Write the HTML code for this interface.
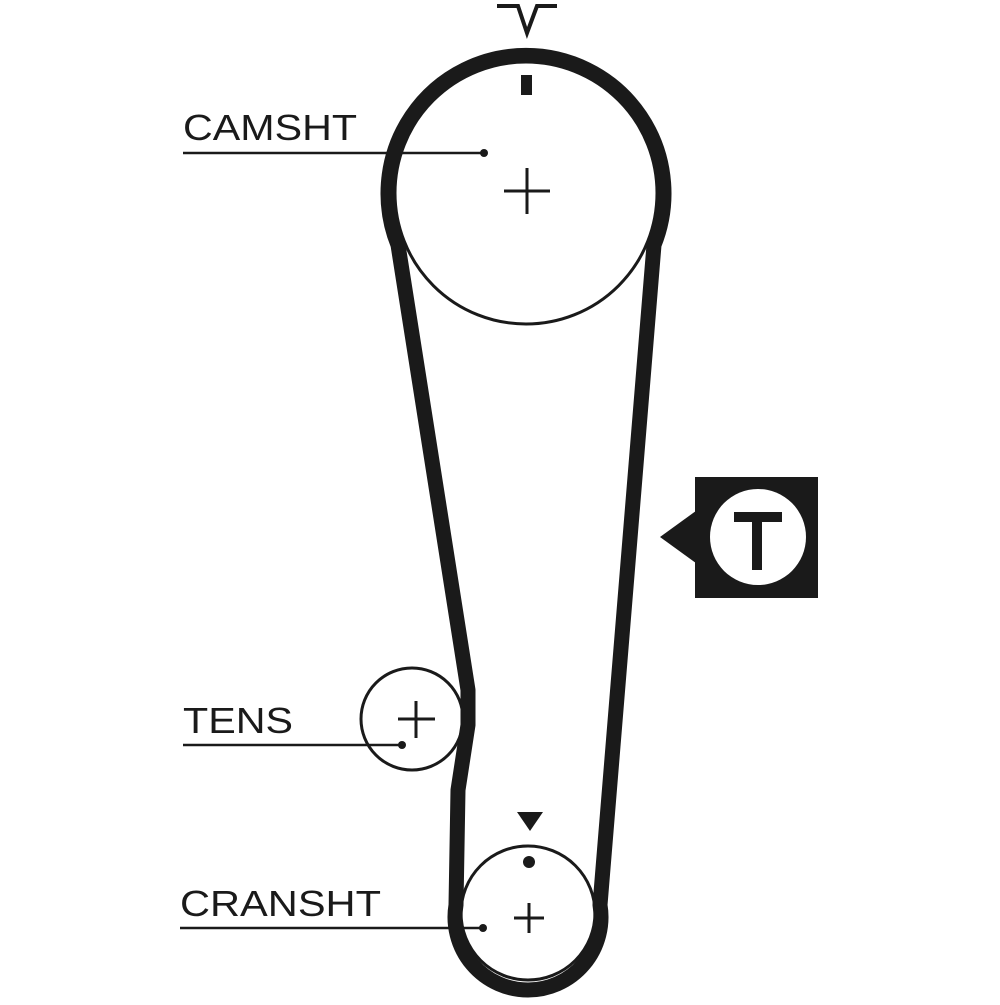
<!DOCTYPE html>
<html><head><style>html,body{margin:0;padding:0;background:#fff;}</style></head>
<body>
<svg width="1000" height="1000" viewBox="0 0 1000 1000" xmlns="http://www.w3.org/2000/svg">
<rect width="1000" height="1000" fill="#fff"/>
<g fill="none" stroke="#1a1a1a">
  <circle cx="526" cy="193" r="131" stroke-width="3"/>
  <circle cx="412" cy="719" r="51" stroke-width="3"/>
  <circle cx="528" cy="913" r="67" stroke-width="3"/>
  <path d="M468,690 L398,245 A138 138 0 1 1 654,245 L600,905 A73 73 0 1 1 456,905 L458,790 L468,725 Z" stroke-width="15" stroke-linejoin="round"/>
  <!-- crosses -->
  <path d="M527,168 V214 M504,191 H550" stroke-width="3"/>
  <path d="M416,701 V738 M398,719 H435" stroke-width="3"/>
  <path d="M529,903 V933 M514,918 H544" stroke-width="3"/>
  <!-- leader lines -->
  <path d="M183,153 H484" stroke-width="2.5"/>
  <path d="M183,745 H402" stroke-width="2.5"/>
  <path d="M180,928 H483" stroke-width="2.5"/>
  <!-- top mark -->
  <path d="M497,6 H518 L527,33 L537,6 H557" stroke-width="4"/>
</g>
<g fill="#1a1a1a">
  <circle cx="484" cy="153" r="4"/>
  <circle cx="402" cy="745" r="4"/>
  <circle cx="483" cy="928" r="4"/>
  <rect x="521" y="75" width="11" height="20"/>
  <polygon points="517,812 543,812 530,831"/>
  <circle cx="529" cy="862" r="6"/>
  <rect x="695" y="477" width="123" height="121"/>
  <polygon points="660,537 700,508 700,566"/>
</g>
<circle cx="758" cy="537" r="48" fill="#fff"/>
<path d="M734,517 H782 M757,517 V570" stroke="#1a1a1a" stroke-width="10" fill="none"/>
<g font-family="Liberation Sans, sans-serif" font-size="36" fill="#1a1a1a">
  <text x="183" y="140" textLength="174" lengthAdjust="spacingAndGlyphs">CAMSHT</text>
  <text x="183" y="733" textLength="110" lengthAdjust="spacingAndGlyphs">TENS</text>
  <text x="180" y="916" textLength="201" lengthAdjust="spacingAndGlyphs">CRANSHT</text>
</g>
</svg>
</body></html>
